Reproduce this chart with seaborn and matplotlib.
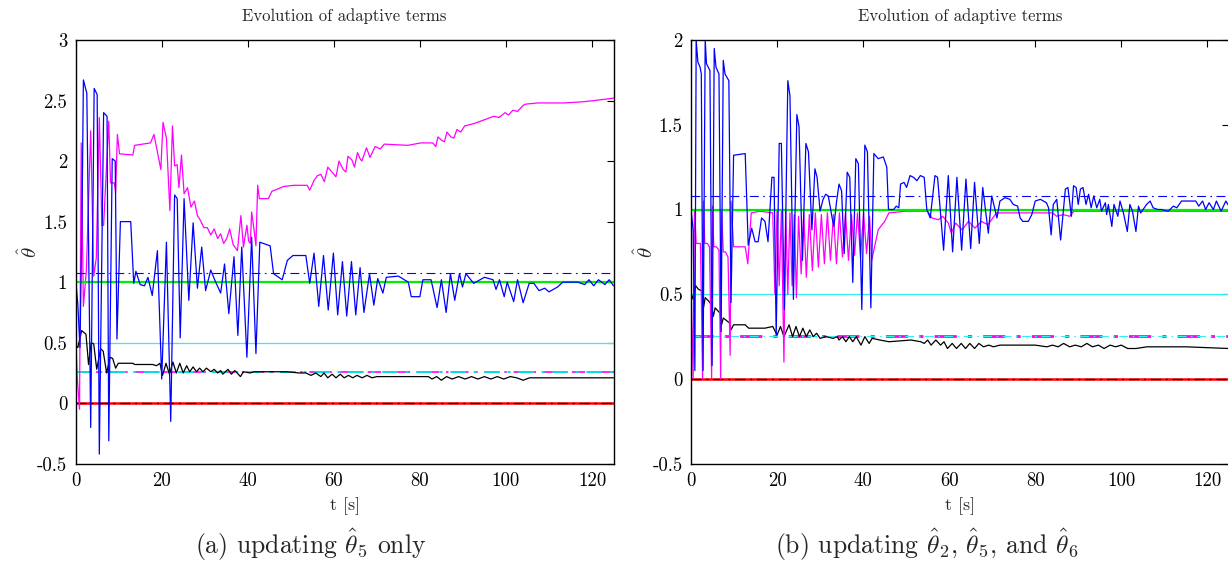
import numpy as np
import matplotlib
matplotlib.use("Agg")
import matplotlib.pyplot as plt
import seaborn as sns

# ---- panel (a): updating theta_5 only, (t, value) pairs ----
a_blue = [(0, 1.02), (0.5, 0.82), (1.0, 0.46), (1.5, 1.6), (1.8, 2.67), (2.6, 2.56),
          (3.5, -0.2), (4.3, 2.6), (5.0, 2.55), (5.5, -0.42), (6.5, 2.4), (7.3, 2.37),
          (7.7, -0.31), (8.5, 2.02), (9.2, 2.0), (9.6, 0.53), (10.4, 1.5), (12.8, 1.5),
          (13.5, 0.99), (14.0, 1.09), (15.0, 0.98), (16.0, 0.97), (16.8, 1.04), (17.8, 0.89),
          (19.0, 1.26), (20.0, 0.2), (21.1, 1.33), (22.1, -0.15), (23.0, 1.72), (23.6, 1.69),
          (24.3, 0.54), (25.2, 1.69), (26.3, 0.85), (27.3, 1.49), (28.3, 0.95), (29.3, 1.29),
          (30.2, 0.93), (31.4, 1.1), (32.3, 1.02), (33.7, 0.91), (34.6, 1.15), (35.6, 0.74),
          (36.8, 1.21), (37.7, 0.56), (38.6, 1.29), (39.8, 0.38), (40.9, 1.37), (41.9, 0.41),
          (42.8, 1.33), (45.2, 1.3), (46.0, 1.07), (48.0, 1.02), (49.2, 1.18), (50.5, 1.22),
          (53.5, 1.22), (54.4, 0.99), (55.4, 1.24), (56.5, 0.8), (57.6, 1.22), (58.7, 0.77),
          (59.9, 1.24), (60.9, 0.73), (62.0, 1.17), (63.0, 0.72), (64.1, 1.17), (65.1, 0.73),
          (66.1, 1.12), (67.0, 0.75), (68.3, 1.07), (69.3, 0.81), (70.2, 1.03), (71.4, 0.91),
          (72.2, 1.04), (75.0, 1.05), (77.3, 1.0), (78.0, 0.88), (80.0, 0.88), (80.7, 1.02),
          (82.6, 1.02), (84.0, 0.79), (85.0, 1.02), (86.1, 0.75), (87.1, 1.07), (88.1, 0.85),
          (89.2, 1.07), (89.9, 0.96), (90.7, 1.07), (92.5, 0.99), (95.0, 1.04), (97.0, 1.02),
          (97.7, 0.94), (98.5, 1.02), (99.6, 0.88), (100.3, 1.0), (101.8, 0.84), (102.7, 1.02),
          (104.0, 0.83), (105.4, 0.99), (106.5, 0.99), (107.7, 0.93), (109.0, 0.95),
          (110.0, 0.92), (112.0, 0.96), (113.2, 1.0), (116.7, 1.0), (118.3, 0.98),
          (119.3, 1.02), (120.4, 0.97), (121.5, 1.02), (123.0, 0.98), (124.0, 1.02),
          (125.0, 0.97)]

a_magenta = [(0, 0.55), (0.4, 0.2), (0.9, -0.05), (1.3, 2.15), (1.8, 0.8), (2.5, 1.1),
             (3.5, 2.25), (4.2, 1.05), (4.8, 1.2), (5.5, 2.36), (6.1, 1.47), (6.5, 1.47),
             (7.7, 2.33), (8.1, 1.82), (9.0, 1.82), (9.3, 1.74), (9.7, 2.22), (10.2, 2.06),
             (13.3, 2.05), (13.7, 2.13), (17.4, 2.15), (18.2, 2.22), (19.8, 1.93), (20.3, 2.32),
             (21.1, 2.19), (21.9, 1.59), (22.5, 2.29), (23.0, 1.96), (23.6, 1.97), (24.0, 1.78),
             (24.6, 2.05), (25.2, 1.73), (26.0, 1.78), (26.8, 1.62), (27.6, 1.67), (28.3, 1.55),
             (29.0, 1.51), (29.8, 1.45), (30.6, 1.45), (31.4, 1.39), (32.2, 1.44), (33.0, 1.36),
             (33.7, 1.4), (34.4, 1.32), (35.1, 1.36), (35.8, 1.44), (36.6, 1.31), (37.6, 1.26),
             (38.4, 1.55), (39.0, 1.29), (39.8, 1.47), (40.2, 1.34), (40.6, 1.32), (40.9, 1.58),
             (41.5, 1.42), (41.9, 1.3), (42.3, 1.8), (42.7, 1.69), (44.8, 1.69), (45.6, 1.75),
             (47.0, 1.77), (48.3, 1.79), (50.7, 1.8), (53.8, 1.8), (54.4, 1.76), (55.4, 1.84),
             (56.2, 1.88), (57.0, 1.89), (57.8, 1.83), (58.6, 1.95), (59.3, 1.92), (60.5, 1.87),
             (61.2, 2.0), (62.2, 1.93), (62.8, 1.91), (63.3, 2.04), (64.2, 2.01), (64.8, 1.95),
             (65.5, 2.07), (66.1, 2.02), (66.5, 2.0), (67.6, 2.11), (68.1, 2.06), (68.4, 2.03),
             (69.6, 2.12), (70.8, 2.1), (71.7, 2.14), (77.2, 2.13), (80.2, 2.15), (83.0, 2.15),
             (83.7, 2.12), (84.2, 2.2), (85.1, 2.17), (85.7, 2.16), (86.3, 2.24), (87.2, 2.2),
             (87.9, 2.19), (88.6, 2.26), (89.5, 2.24), (90.4, 2.29), (92.6, 2.31), (94.9, 2.34),
             (97.2, 2.37), (98.4, 2.36), (99.8, 2.4), (100.6, 2.38), (101.6, 2.42),
             (102.7, 2.41), (104.0, 2.46), (104.5, 2.47), (107.4, 2.48), (113.5, 2.48),
             (118.0, 2.49), (120.5, 2.5), (122.8, 2.51), (125.0, 2.52)]

a_black = [(0, 0.48), (0.5, 0.46), (1.4, 0.6), (2.4, 0.57), (3.0, 0.32), (3.6, 0.5),
           (4.2, 0.49), (4.9, 0.28), (5.8, 0.45), (6.4, 0.43), (7.2, 0.25), (8.0, 0.38),
           (8.6, 0.37), (9.3, 0.29), (9.9, 0.33), (13.3, 0.33), (13.7, 0.32), (17.9, 0.32),
           (18.8, 0.31), (19.6, 0.33), (20.2, 0.23), (21.0, 0.33), (21.8, 0.24), (22.6, 0.34),
           (23.4, 0.25), (24.2, 0.33), (25.0, 0.25), (25.8, 0.31), (26.5, 0.26), (27.3, 0.3),
           (28.1, 0.26), (28.8, 0.29), (29.6, 0.26), (30.4, 0.29), (31.4, 0.26), (32.2, 0.28),
           (33.0, 0.25), (33.7, 0.27), (34.2, 0.24), (35.4, 0.28), (36.2, 0.24), (37.0, 0.27),
           (38.3, 0.22), (39.0, 0.26), (40.5, 0.25), (41.5, 0.26), (44.0, 0.26), (49.0, 0.26),
           (52.0, 0.25), (53.5, 0.25), (54.7, 0.23), (55.8, 0.25), (57.0, 0.22), (57.7, 0.25),
           (58.6, 0.21), (59.6, 0.24), (60.5, 0.21), (61.5, 0.24), (62.4, 0.21), (63.4, 0.23),
           (64.4, 0.21), (65.4, 0.23), (66.6, 0.21), (67.7, 0.23), (68.9, 0.21), (70.0, 0.22),
           (71.6, 0.22), (82.0, 0.22), (82.8, 0.2), (83.9, 0.22), (85.0, 0.19), (86.2, 0.22),
           (87.5, 0.2), (89.0, 0.22), (90.5, 0.2), (92.0, 0.22), (93.5, 0.2), (95.0, 0.22),
           (96.5, 0.2), (98.0, 0.22), (99.5, 0.2), (101.0, 0.22), (102.5, 0.21), (104.0, 0.19),
           (105.5, 0.21), (110.0, 0.21), (118.0, 0.21), (125.0, 0.21)]

# ---- panel (b): updating theta_2, theta_5 and theta_6 ----
b_blue = [(0, 1.0), (0.5, 0.88), (0.9, 0.05), (1.2, 2.0), (1.6, 1.87), (2.1, 1.84),
          (2.4, 1.8), (2.8, 0.05), (3.3, 2.0), (3.6, 1.86), (4.4, 1.82), (4.9, 0.08),
          (5.4, 1.95), (5.8, 1.84), (6.5, 1.8), (7.0, 0.28), (7.5, 1.88), (7.9, 1.8),
          (8.8, 1.76), (9.3, 0.45), (9.9, 1.32), (12.6, 1.33), (13.3, 0.79), (14.1, 0.89),
          (14.9, 0.81), (15.6, 0.81), (16.4, 0.95), (17.2, 0.93), (17.9, 0.81), (18.8, 1.19),
          (19.3, 1.19), (19.8, 0.26), (20.5, 1.39), (21.0, 1.39), (21.7, 0.41), (22.5, 1.76),
          (23.0, 1.67), (23.8, 0.47), (24.6, 1.56), (25.1, 1.49), (25.9, 0.7), (26.7, 1.39),
          (27.3, 1.34), (28.1, 0.88), (28.8, 1.24), (29.3, 1.19), (30.0, 0.99), (30.7, 1.06),
          (31.3, 1.09), (31.9, 1.08), (32.4, 1.01), (32.8, 0.95), (33.2, 0.9), (33.8, 1.04),
          (34.4, 1.15), (35.0, 1.11), (35.6, 0.74), (36.3, 1.22), (36.9, 1.19), (37.6, 0.57),
          (38.3, 1.3), (38.9, 1.27), (39.7, 0.41), (40.4, 1.38), (41.0, 1.34), (41.8, 0.42),
          (42.5, 1.33), (43.5, 1.3), (44.7, 1.31), (45.5, 1.25), (45.9, 1.0), (47.1, 1.0),
          (47.7, 1.02), (48.3, 1.01), (48.7, 1.15), (49.5, 1.16), (50.1, 1.13), (50.9, 1.2),
          (51.7, 1.19), (52.5, 1.17), (53.3, 1.2), (54.2, 1.19), (54.8, 1.0), (55.6, 0.95),
          (56.7, 1.2), (57.3, 1.19), (58.7, 0.76), (59.8, 1.2), (60.8, 0.75), (61.8, 1.19),
          (62.9, 0.76), (63.9, 1.18), (65.0, 0.77), (65.9, 1.16), (67.0, 0.8), (67.8, 1.13),
          (69.1, 0.86), (69.9, 1.08), (71.1, 0.95), (71.8, 1.05), (73.0, 1.07), (74.1, 1.06),
          (74.9, 1.03), (75.9, 1.02), (76.5, 0.95), (77.1, 0.93), (78.4, 0.93), (79.2, 0.97),
          (80.0, 1.05), (81.2, 1.06), (82.6, 1.04), (83.1, 1.01), (83.7, 0.85), (84.2, 1.03),
          (85.0, 1.06), (85.9, 0.82), (87.0, 1.12), (87.6, 1.13), (88.4, 0.96), (88.9, 1.14),
          (89.5, 1.13), (90.0, 1.03), (90.5, 1.12), (91.1, 1.13), (91.8, 1.03), (92.4, 1.09),
          (93.0, 1.01), (93.6, 1.08), (94.3, 1.01), (95.0, 1.06), (95.4, 0.99), (96.3, 1.04),
          (96.6, 0.97), (97.0, 1.03), (97.8, 0.9), (98.3, 1.03), (99.2, 0.96), (99.7, 1.05),
          (100.5, 0.98), (101.4, 0.87), (102.0, 1.03), (102.6, 0.99), (103.4, 0.87),
          (104.0, 1.02), (104.5, 0.98), (105.9, 1.03), (106.7, 1.05), (107.4, 1.01),
          (108.5, 1.0), (109.3, 1.0), (110.9, 0.99), (112.1, 1.02), (112.9, 1.01),
          (114.0, 1.05), (116.3, 1.05), (117.3, 1.05), (118.0, 1.02), (118.9, 1.05),
          (119.6, 1.0), (120.4, 1.04), (121.4, 1.0), (122.1, 1.05), (123.2, 0.99),
          (124.3, 1.05), (125.0, 1.02)]

b_magenta = [(0, 0.55), (0.5, 0.0), (0.8, 1.0), (1.2, 0.8), (1.7, 0.8), (2.2, 0.8),
             (2.7, 0.0), (2.9, 1.05), (3.2, 0.8), (3.8, 0.8), (4.3, 0.78), (4.8, 0.0),
             (5.0, 1.02), (5.3, 0.78), (5.9, 0.78), (6.5, 0.76), (6.9, 0.0), (7.1, 1.0),
             (7.5, 0.75), (8.0, 0.75), (8.6, 0.72), (9.1, 0.14), (9.3, 1.05), (9.9, 0.78),
             (12.6, 0.78), (13.2, 0.68), (14.0, 0.98), (16.0, 0.99), (19.0, 0.98), (19.5, 0.5),
             (20.0, 1.0), (20.5, 0.55), (21.0, 0.99), (21.6, 0.1), (22.0, 1.0), (22.5, 0.5),
             (23.0, 0.98), (23.5, 0.55), (24.0, 0.97), (24.5, 0.48), (25.0, 0.96), (25.6, 0.62),
             (26.2, 0.98), (26.8, 0.6), (27.5, 0.97), (28.2, 0.64), (28.9, 0.98), (29.6, 0.66),
             (30.3, 0.97), (31.0, 0.68), (31.7, 0.98), (32.4, 0.7), (33.1, 0.97), (33.8, 0.68),
             (34.5, 0.98), (35.2, 0.72), (35.9, 0.98), (36.6, 0.7), (37.3, 0.97), (38.0, 0.73),
             (38.7, 0.98), (39.4, 0.72), (40.1, 0.98), (40.8, 0.74), (41.5, 0.96), (42.0, 0.7),
             (43.5, 0.88), (45.0, 0.93), (46.0, 0.98), (50.0, 0.99), (55.0, 0.99), (56.0, 0.95),
             (57.5, 0.94), (58.5, 0.96), (59.8, 0.92), (60.5, 0.86), (61.5, 0.92), (63.0, 0.88),
             (64.5, 0.93), (66.0, 0.89), (67.5, 0.93), (69.0, 0.91), (71.0, 0.98), (84.0, 0.98),
             (85.0, 0.96), (86.5, 0.97), (88.0, 0.96), (89.0, 0.99), (95.0, 0.99),
             (110.0, 0.99), (125.0, 0.99)]

b_black = [(0, 0.51), (0.5, 0.47), (1.1, 0.55), (1.7, 0.53), (2.5, 0.52), (2.9, 0.42),
           (3.3, 0.48), (4.1, 0.46), (4.7, 0.44), (5.2, 0.37), (5.6, 0.42), (6.7, 0.39),
           (7.1, 0.32), (7.5, 0.36), (9.0, 0.33), (9.3, 0.29), (9.9, 0.32), (12.6, 0.32),
           (13.4, 0.3), (17.2, 0.3), (19.0, 0.31), (20.0, 0.26), (20.8, 0.31), (21.6, 0.25),
           (22.8, 0.32), (23.6, 0.25), (24.4, 0.31), (25.2, 0.25), (26.0, 0.3), (26.8, 0.25),
           (27.6, 0.29), (28.4, 0.25), (29.2, 0.27), (30.0, 0.24), (31.4, 0.25), (33.0, 0.24),
           (34.0, 0.25), (34.4, 0.23), (35.2, 0.25), (36.0, 0.22), (36.8, 0.25), (37.6, 0.22),
           (38.4, 0.25), (39.5, 0.2), (40.4, 0.25), (41.4, 0.21), (42.1, 0.24), (43.9, 0.23),
           (46.0, 0.22), (51.1, 0.23), (53.4, 0.22), (54.2, 0.21), (55.0, 0.23), (55.8, 0.2),
           (56.9, 0.23), (58.0, 0.2), (58.8, 0.22), (59.6, 0.18), (60.7, 0.21), (61.7, 0.18),
           (62.8, 0.21), (63.8, 0.18), (64.8, 0.21), (65.9, 0.18), (66.9, 0.21), (68.0, 0.19),
           (69.2, 0.2), (70.3, 0.19), (71.8, 0.2), (80.0, 0.2), (82.7, 0.19), (84.0, 0.2),
           (85.3, 0.19), (86.6, 0.21), (88.0, 0.19), (89.3, 0.2), (90.7, 0.19), (92.0, 0.21),
           (93.3, 0.19), (94.7, 0.2), (96.0, 0.18), (97.4, 0.2), (98.7, 0.19), (100.0, 0.2),
           (101.5, 0.18), (103.4, 0.18), (106.0, 0.19), (115.0, 0.19), (125.0, 0.18)]

# constant reference levels
a_levels = {"green": 1.0, "cyan": 0.5, "red": 0.0, "blue_ref": 1.075, "ref2": 0.255}
b_levels = {"green": 1.0, "cyan": 0.5, "red": 0.0, "blue_ref": 1.078, "ref2": 0.255}

titles = ["Evolution of adaptive terms", "Evolution of adaptive terms"]
captions = [r"(a) updating $\hat{\theta}_5$ only",
            r"(b) updating $\hat{\theta}_2$, $\hat{\theta}_5$, and $\hat{\theta}_6$"]
a_yticks = [-0.5, 0, 0.5, 1, 1.5, 2, 2.5, 3]
b_yticks = [-0.5, 0, 0.5, 1, 1.5, 2]
xticks = [0, 20, 40, 60, 80, 100, 120]

sns.set_style("white")
plt.rcParams["font.family"] = ["cmr10", "DejaVu Serif"]
plt.rcParams["mathtext.fontset"] = "cm"
plt.rcParams["axes.unicode_minus"] = False
plt.rcParams["axes.formatter.use_mathtext"] = True

DASHDOT = (0, (8, 4, 1.5, 4))

fig = plt.figure(figsize=(12.28, 5.61), dpi=100)
ax_a = fig.add_axes([0.0616, 0.1733, 0.4380, 0.7554])
ax_b = fig.add_axes([0.5627, 0.1733, 0.4380, 0.7554])


def line(ax, pairs, **kw):
    t, v = np.array(pairs).T
    sns.lineplot(x=t, y=v, ax=ax, estimator=None, sort=False, **kw)


def hline(ax, level, **kw):
    sns.lineplot(x=[0, 125], y=[level, level], ax=ax, estimator=None, **kw)


def draw_panel(ax, levels, black, magenta, blue, panel):
    hline(ax, levels["cyan"], color="#33eeee", lw=0.9)
    if panel == "a":
        hline(ax, levels["ref2"], color="#ff00ff", lw=1.2, linestyle=DASHDOT)
        hline(ax, levels["ref2"], color="#00e0e0", lw=1.4, linestyle=DASHDOT)
    else:
        hline(ax, levels["ref2"], color="#ff00ff", lw=2.0, linestyle=DASHDOT)
        hline(ax, levels["ref2"], color="#33eeee", lw=0.8, linestyle=DASHDOT)
    line(ax, black, color="black", lw=0.9)
    hline(ax, levels["red"], color="#ff0000", lw=1.8)
    hline(ax, levels["red"], color="black", lw=0.9, linestyle=DASHDOT)
    line(ax, magenta, color="#ff00ff", lw=0.9)
    hline(ax, levels["green"], color="#00ee00", lw=1.6)
    hline(ax, levels["blue_ref"], color="#0000ff", lw=0.8, linestyle=DASHDOT)
    line(ax, blue, color="#0000ff", lw=0.9)


draw_panel(ax_a, a_levels, a_black, a_magenta, a_blue, "a")
draw_panel(ax_b, b_levels, b_black, b_magenta, b_blue, "b")

for ax, ylim, yticks, title in [(ax_a, (-0.5, 3), a_yticks, titles[0]),
                                (ax_b, (-0.5, 2), b_yticks, titles[1])]:
    ax.set_xlim(0, 125)
    ax.set_ylim(*ylim)
    ax.set_xticks(xticks)
    ax.set_xticklabels([str(v) for v in xticks])
    ax.set_yticks(yticks)
    ax.set_yticklabels([f"{v:g}" for v in yticks])
    ax.tick_params(direction="in", length=5, width=0.8, top=True, right=True,
                   labelsize=13.5, pad=6, colors="black")
    for s in ax.spines.values():
        s.set_color("black")
        s.set_linewidth(1.0)
    ax.set_title(title, fontsize=12, pad=14)
    ax.set_xlabel("t [s]", fontsize=13, labelpad=5)
    ax.set_ylabel(r"$\hat{\theta}$", fontsize=15, labelpad=-3)

fig.text(311 / 1228, 1 - 545 / 561, captions[0], ha="center", va="center", fontsize=18.5)
fig.text(927 / 1228, 1 - 545 / 561, captions[1], ha="center", va="center", fontsize=18.5)

fig.savefig("out.png", dpi=100)
